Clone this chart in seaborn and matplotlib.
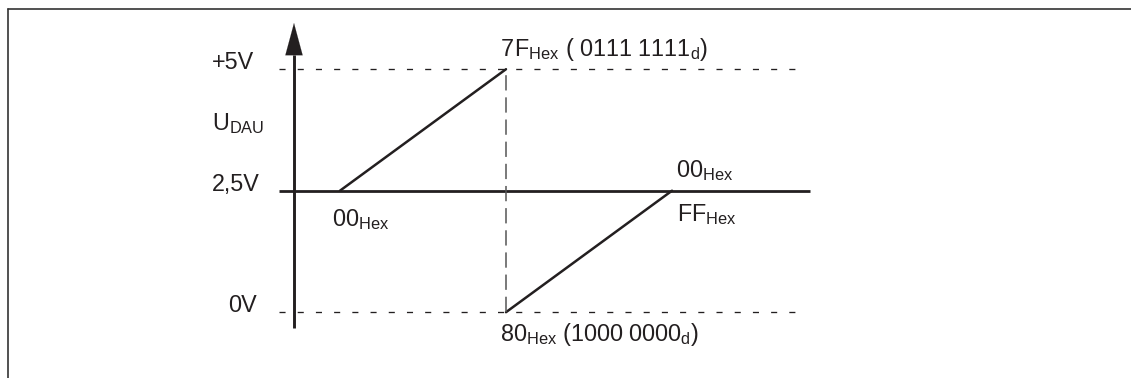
import matplotlib
matplotlib.use("Agg")
import matplotlib.pyplot as plt
import seaborn as sns
import pandas as pd
from matplotlib.lines import Line2D

# Data: DAC output voltage over code position (0x00..0x7F -> 0..1, 0x80..0xFF -> 1..2)
rise_pos = [0, 1]
rise_volt = [2.5, 5.0]
fall_pos = [1, 2]
fall_volt = [0.0, 2.5]

levels = [5.0, 2.5, 0.0]
level_labels = ["+5V", "2,5V", "0V"]

sns.set_theme(style="white")
plt.rcParams["font.family"] = ["Liberation Sans", "DejaVu Sans"]
plt.rcParams["mathtext.fontset"] = "custom"
plt.rcParams["mathtext.rm"] = "Liberation Sans"
plt.rcParams["mathtext.it"] = "Liberation Sans"

ink = "#231f20"

fig = plt.figure(figsize=(11.31, 3.78), dpi=100)
ax = fig.add_axes([0, 0, 1, 1])
ax.set_xlim(-2.048, 4.765)
ax.set_ylim(-1.354, 6.424)
ax.axis("off")

# ramps
df1 = pd.DataFrame({"pos": rise_pos, "volt": rise_volt})
df2 = pd.DataFrame({"pos": fall_pos, "volt": fall_volt})
sns.lineplot(data=df1, x="pos", y="volt", ax=ax, color=ink, lw=1.8)
sns.lineplot(data=df2, x="pos", y="volt", ax=ax, color=ink, lw=1.8)

# reference lines
ax.plot([-0.367, 2.831], [2.5, 2.5], color=ink, lw=2.0, solid_capstyle="butt")
for v in (5.0, 0.0):
    ax.plot([-0.367, 2.807], [v, v], color=ink, lw=0.95,
            ls=(0, (4.6, 9.2)))
ax.plot([1, 1], [0, 5], color="#555555", lw=1.1, ls=(0, (10, 4.5)))

# vertical axis with arrow
ax.plot([-0.277, -0.277], [-0.319, 5.3], color=ink, lw=2.1,
        solid_capstyle="butt")
ax.annotate("", xy=(-0.277, 5.95), xytext=(-0.277, 5.2),
            arrowprops=dict(arrowstyle="-|>,head_length=1.15,head_width=0.31",
                            mutation_scale=20, color=ink, lw=0.1,
                            shrinkA=0, shrinkB=0))

fs = 16.8
ax.text(-0.771, 5.0, level_labels[0], fontsize=fs, color=ink, va="baseline")
ax.text(-0.771, 2.5, level_labels[1], fontsize=fs, color=ink, va="baseline")
ax.text(-0.5, 0.0, level_labels[2], fontsize=fs, color=ink, va="baseline", ha="right")
ax.text(-0.771, 3.75, r"U$_{\mathregular{DAU}}$", fontsize=fs, color=ink, va="baseline")

ax.text(-0.048, 1.774, r"00$_{\mathregular{Hex}}$", fontsize=fs, color=ink, va="baseline")
ax.text(0.964, 5.27, r"7$\hspace{0.07}$F$_{\mathregular{Hex}}$ ( 0111 1111$_{\mathregular{d}}$)",
        fontsize=fs, color=ink, va="baseline")
ax.text(2.024, 2.782, r"00$_{\mathregular{Hex}}$", fontsize=fs, color=ink, va="baseline")
ax.text(2.03, 1.877, r"FF$_{\mathregular{Hex}}$", fontsize=fs, color=ink, va="baseline")
ax.text(0.964, -0.593, r"80$_{\mathregular{Hex}}$ (1000 0000$_{\mathregular{d}}$)",
        fontsize=fs, color=ink, va="baseline")

# frame at top and left
fig.add_artist(Line2D([8 / 1131, 1.0], [1 - 9 / 378, 1 - 9 / 378],
                      transform=fig.transFigure, color="#333333", lw=1.2))
fig.add_artist(Line2D([8 / 1131, 8 / 1131], [0.0, 1 - 9 / 378],
                      transform=fig.transFigure, color="#333333", lw=1.2))

plt.savefig("out.png", dpi=100)
